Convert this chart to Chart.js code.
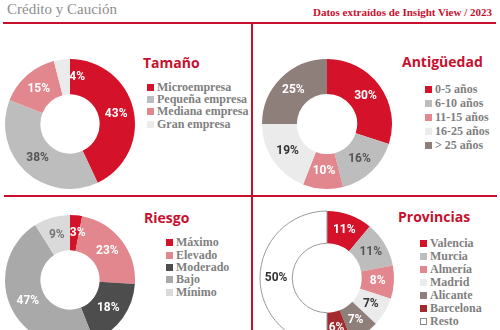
<!DOCTYPE html>
<html lang="es">
<head>
<meta charset="utf-8">
<title>Crédito y Caución</title>
<script src="https://cdn.jsdelivr.net/npm/chart.js@4/dist/chart.umd.min.js"></script>
<style>
  html, body { margin: 0; padding: 0; }
  body { width: 500px; height: 330px; overflow: hidden; background: #fff; position: relative; }
  .abs { position: absolute; }
  .brand { left: 7px; top: 0px; font: 15px "Liberation Serif", serif; color: #8d8d8d; line-height: 18px; white-space: nowrap; }
  .source { right: 8px; top: 5px; font: bold 11px "Liberation Serif", serif; color: #c8102e; line-height: 14px; white-space: nowrap; }
  .rule { background: #c8102e; }
  .panel-title { font: bold 14px "Open Sans", sans-serif; color: #c8102e; line-height: 18px; white-space: nowrap; }
  .legend { margin: 0; padding: 0; list-style: none; font: bold 12px "Liberation Serif", serif; color: #7f7f7f; white-space: nowrap; }
  .legend li { display: flex; align-items: center; }
  .legend .sw { width: 7px; height: 7px; margin-right: 3px; box-sizing: border-box; flex: none; }
  canvas { position: absolute; }
</style>
</head>
<body>
<div class="abs brand">Crédito y Caución</div>
<div class="abs source">Datos extraídos de Insight View / 2023</div>
<div class="abs rule" style="left:3px; top:22px; width:493px; height:2px;"></div>
<div class="abs rule" style="left:251px; top:23px; width:2px; height:307px;"></div>
<div class="abs rule" style="left:4px; top:195px; width:493px; height:2px;"></div>

<script>
// Tamaño de empresa
const tamanoLabels = ['Microempresa', 'Pequeña empresa', 'Mediana empresa', 'Gran empresa'];
const tamanoValues = [43, 38, 15, 4];

// Antigüedad
const antiguedadLabels = ['0-5 años', '6-10 años', '11-15 años', '16-25 años', '> 25 años'];
const antiguedadValues = [30, 16, 10, 19, 25];

// Riesgo
const riesgoLabels = ['Máximo', 'Elevado', 'Moderado', 'Bajo', 'Mínimo'];
const riesgoValues = [3, 23, 18, 47, 9];

// Provincias
const provinciasLabels = ['Valencia', 'Murcia', 'Almería', 'Madrid', 'Alicante', 'Barcelona', 'Resto'];
const provinciasValues = [11, 11, 8, 7, 7, 6, 50];

const RED = '#d4132b', GREY = '#bdbdbd', PINK = '#e2878d', LIGHT = '#ebebeb',
      TAUPE = '#8e7f7a', DARK = '#4d4d4d', MID = '#a9a9a9', PALE = '#dadada', WINE = '#a52a2f';

// Percentage labels placed on the middle of each ring slice
const sliceLabels = {
  id: 'sliceLabels',
  afterDatasetsDraw(chart, args, opts) {
    const { ctx } = chart;
    const meta = chart.getDatasetMeta(0);
    const values = chart.data.datasets[0].data;
    ctx.save();
    ctx.font = 'bold 12px Roboto, "Open Sans", sans-serif';
    ctx.textAlign = 'center';
    ctx.textBaseline = 'middle';
    meta.data.forEach((arc, i) => {
      const p = arc.getProps(['x', 'y', 'startAngle', 'endAngle', 'innerRadius', 'outerRadius'], true);
      const shift = ((opts.shift && opts.shift[i]) || 0) * Math.PI / 180;
      const a = (p.startAngle + p.endAngle) / 2 + shift;
      const r = (p.innerRadius + p.outerRadius) / 2;
      ctx.fillStyle = opts.colors[i];
      ctx.fillText(values[i] + '%', p.x + Math.cos(a) * r, p.y + Math.sin(a) * r);
    });
    ctx.restore();
  }
};

const panels = [
  {
    title: 'Tamaño', labels: tamanoLabels, values: tamanoValues,
    colors: [RED, GREY, PINK, LIGHT], textColors: ['#fff', '#555', '#fff', '#fff'], shift: [0, 0, 0, 16],
    cx: 69.5, cy: 123.5, r: 65, cut: 31,
    titleX: 143, titleY: 54, legX: 147, legY: 81, legStep: 12.4
  },
  {
    title: 'Antigüedad', labels: antiguedadLabels, values: antiguedadValues,
    colors: [RED, GREY, PINK, LIGHT, TAUPE], textColors: ['#fff', '#555', '#fff', '#333', '#fff'], shift: [],
    cx: 327, cy: 123.5, r: 65, cut: 31.5,
    titleX: 402, titleY: 53, legX: 425, legY: 82, legStep: 14
  },
  {
    title: 'Riesgo', labels: riesgoLabels, values: riesgoValues,
    colors: [RED, PINK, DARK, MID, PALE], textColors: ['#fff', '#fff', '#fff', '#fff', '#777'], shift: [4],
    cx: 69.5, cy: 280, r: 65, cut: 31,
    titleX: 144, titleY: 209, legX: 166, legY: 236.5, legStep: 12.4
  },
  {
    title: 'Provincias', labels: provinciasLabels, values: provinciasValues,
    colors: [RED, GREY, PINK, LIGHT, TAUPE, WINE, '#ffffff'], textColors: ['#fff', '#555', '#fff', '#333', '#fff', '#fff', '#333'], shift: [],
    borderWidths: [0, 0, 0, 0, 0, 0, 1], borderColor: '#9a9a9a',
    cx: 327, cy: 277.5, r: 67, cut: 36,
    titleX: 398, titleY: 208, legX: 420, legY: 236.5, legStep: 13
  }
];

panels.forEach(p => {
  // Title
  const t = document.createElement('div');
  t.className = 'abs panel-title';
  t.style.left = p.titleX + 'px';
  t.style.top = p.titleY + 'px';
  t.textContent = p.title;
  document.body.appendChild(t);

  // Legend
  const ul = document.createElement('ul');
  ul.className = 'abs legend';
  ul.style.left = p.legX + 'px';
  ul.style.top = p.legY + 'px';
  p.labels.forEach((lab, i) => {
    const li = document.createElement('li');
    li.style.height = p.legStep + 'px';
    const sw = document.createElement('span');
    sw.className = 'sw';
    sw.style.background = p.colors[i];
    if (p.colors[i] === '#ffffff') sw.style.border = '1px solid #8a8a8a';
    const tx = document.createElement('span');
    tx.textContent = lab;
    li.appendChild(sw);
    li.appendChild(tx);
    ul.appendChild(li);
  });
  document.body.appendChild(ul);

  // Doughnut
  const S = 2 * p.r + 6;
  const cv = document.createElement('canvas');
  cv.width = S;
  cv.height = S;
  cv.style.width = S + 'px';
  cv.style.height = S + 'px';
  cv.style.left = (p.cx - S / 2) + 'px';
  cv.style.top = (p.cy - S / 2) + 'px';
  document.body.appendChild(cv);

  new Chart(cv, {
    type: 'doughnut',
    data: {
      labels: p.labels,
      datasets: [{
        data: p.values,
        backgroundColor: p.colors,
        borderWidth: p.borderWidths || 0,
        borderColor: p.borderColor || '#fff'
      }]
    },
    options: {
      responsive: false,
      animation: false,
      devicePixelRatio: 1,
      radius: p.r,
      cutout: p.cut,
      layout: { padding: 0 },
      events: [],
      plugins: {
        legend: { display: false },
        tooltip: { enabled: false },
        sliceLabels: { colors: p.textColors, shift: p.shift }
      }
    },
    plugins: [sliceLabels]
  });
});
</script>
</body>
</html>
